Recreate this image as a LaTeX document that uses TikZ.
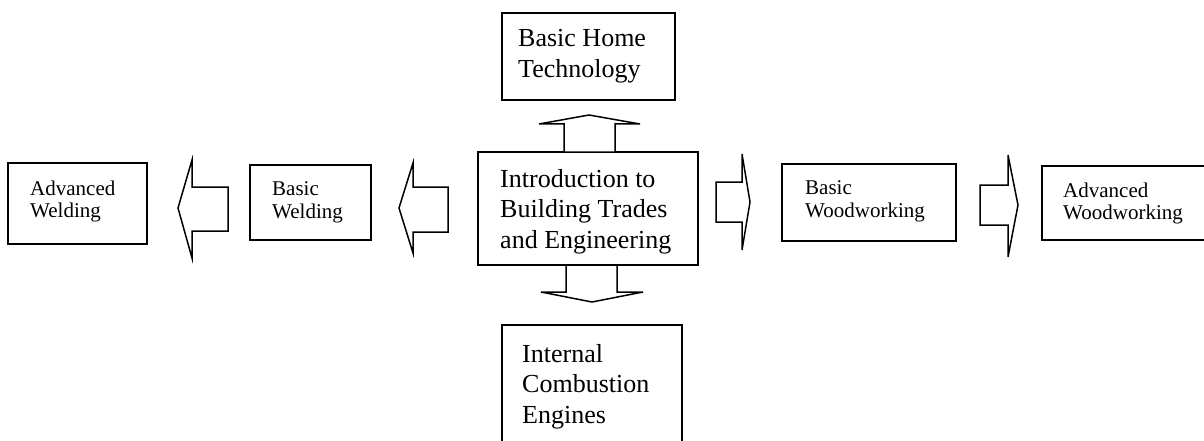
\documentclass[tikz,border=0pt]{standalone}
\usepackage{fontspec}
\setmainfont{Liberation Serif}
\tikzset{
  box/.style={draw, line width=1.8pt, rectangle, inner sep=0pt},
  bigtxt/.style={anchor=north west, inner sep=0pt, align=left, font=\fontsize{26pt}{30.5pt}\selectfont},
  smalltxt/.style={anchor=north west, inner sep=0pt, align=left, font=\fontsize{21pt}{22.5pt}\selectfont},
  blockarrow/.style={draw, line width=1.5pt, line join=miter, fill=white}
}
\begin{document}
\begin{tikzpicture}[x=1pt,y=-1pt]
\useasboundingbox (0,0) rectangle (1204,441);
\clip (0,0) rectangle (1204,441);
% boxes
\node[box, minimum width=139pt, minimum height=81pt] (aw) at (77.5,203.5) {};
\node[box, minimum width=121pt, minimum height=75pt] (bw) at (310.5,202.5) {};
\node[box, minimum width=173pt, minimum height=87pt] (bht) at (588.5,56.5) {};
\node[box, minimum width=220pt, minimum height=113pt] (c) at (588,208.5) {};
\node[box, minimum width=180pt, minimum height=140pt] (ice) at (592,395) {};
\node[box, minimum width=174pt, minimum height=77pt] (bwd) at (869,202.5) {};
\node[box, minimum width=174pt, minimum height=74pt] (awd) at (1129,203) {};
% texts
\node[smalltxt] (awt) at (30,180.7) {Advanced\\Welding};
\node[smalltxt] (bwt) at (272,181.7) {Basic\\Welding};
\node[bigtxt] (bhtt) at (518,29.2) {Basic Home\\Technology};
\node[bigtxt] (ct) at (500,169.2) {Introduction to\\Building Trades\\and Engineering};
\node[bigtxt] (icet) at (522,344.2) {Internal\\Combustion\\Engines};
\node[smalltxt] (bwdt) at (805,180.7) {Basic\\Woodworking};
\node[smalltxt] (awdt) at (1063,182.7) {Advanced\\Woodworking};
% block arrows
\draw[blockarrow] (178,208) -- (192,160) -- (192,187) -- (228,187) -- (228,231) -- (192,231) -- (192,258) -- cycle;
\draw[blockarrow] (399,208) -- (413,163) -- (413,187) -- (448,187) -- (448,232) -- (413,232) -- (413,253) -- cycle;
\draw[blockarrow] (589,115) -- (640,124) -- (615,124) -- (615,152) -- (564,152) -- (564,124) -- (539,124) -- cycle;
\draw[blockarrow] (592,302) -- (643,292) -- (617,292) -- (617,265) -- (566,265) -- (566,292) -- (541,292) -- cycle;
\draw[blockarrow] (750,202) -- (742,154) -- (742,182) -- (716,182) -- (716,222) -- (742,222) -- (742,250) -- cycle;
\draw[blockarrow] (1018,205) -- (1008,155) -- (1008,185) -- (980,185) -- (980,225) -- (1008,225) -- (1008,257) -- cycle;
\end{tikzpicture}
\end{document}
